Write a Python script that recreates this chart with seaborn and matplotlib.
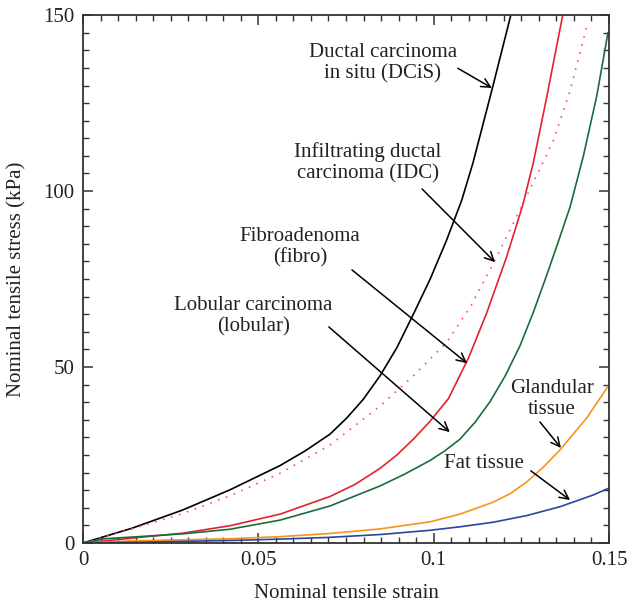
import numpy as np
import pandas as pd
import matplotlib
matplotlib.use("Agg")
import matplotlib.pyplot as plt
from matplotlib.ticker import MultipleLocator
import seaborn as sns

# strain / stress values
dcis_x = [0, 0.014, 0.0285, 0.0419, 0.0562, 0.0634, 0.0704, 0.0752, 0.0799, 0.0847, 0.0895, 0.0942, 0.099, 0.1037, 0.108, 0.1112, 0.1166, 0.122]
dcis_y = [0, 4.2, 9.4, 15.1, 22.0, 26.2, 30.9, 35.5, 40.8, 47.5, 55.5, 65.0, 75.0, 86.1, 97.4, 108, 128.7, 150]

fibro_x = [0, 0.0143, 0.0285, 0.0419, 0.0562, 0.0704, 0.0775, 0.0847, 0.0895, 0.0942, 0.0989, 0.1042, 0.1099, 0.1151, 0.1208, 0.1254, 0.1284, 0.1322, 0.1368]
fibro_y = [0, 1.4, 2.8, 4.9, 8.2, 13.2, 16.6, 21.2, 25.0, 29.5, 34.5, 41.0, 52.5, 65.3, 81.3, 96, 108, 126.5, 150]

idc_x = [0, 0.0143, 0.0285, 0.0419, 0.0562, 0.0704, 0.0847, 0.0942, 0.1037, 0.1104, 0.1175, 0.126, 0.134, 0.1389, 0.1437]
idc_y = [0, 4.1, 8.4, 13.4, 19.8, 27.8, 38.9, 47.5, 57.0, 67.0, 80.4, 97.5, 114, 128.5, 147]

lobular_x = [0, 0.006, 0.0143, 0.0285, 0.0419, 0.0562, 0.0704, 0.0847, 0.0918, 0.0989, 0.1032, 0.1075, 0.1118, 0.1161, 0.1204,
             0.1246, 0.1284, 0.1322, 0.1355, 0.1389, 0.1427, 0.1465, 0.1497]
lobular_y = [0, 1.2, 1.7, 2.6, 3.9, 6.5, 10.5, 16.2, 19.6, 23.4, 26.2, 29.5, 34.3, 40.2, 47.5,
             56.0, 65.5, 76.0, 85.5, 95.5, 110, 127, 145]

gland_x = [0, 0.0143, 0.0419, 0.0562, 0.0704, 0.0847, 0.0989, 0.1075, 0.117, 0.1218, 0.1266, 0.1313, 0.136, 0.1437, 0.15]
gland_y = [0, 0.6, 1.2, 1.8, 2.7, 4.0, 6.0, 8.2, 11.6, 14.0, 17.4, 21.6, 26.4, 35.6, 44.9]

fat_x = [0, 0.0143, 0.0419, 0.0562, 0.0704, 0.0847, 0.0989, 0.1075, 0.117, 0.1266, 0.136, 0.1454, 0.15]
fat_y = [0, 0.2, 0.7, 1.1, 1.6, 2.4, 3.6, 4.6, 5.9, 7.8, 10.3, 13.6, 15.6]

x_ticks = [0, 0.05, 0.1, 0.15]
x_tick_labels = ["0", "0.05", "0.1", "0.15"]
y_ticks = [0, 50, 100, 150]

sns.set_style("ticks")
plt.rcParams['font.family'] = ['Liberation Serif', 'DejaVu Serif']

fig = plt.figure(figsize=(6.27, 6.06), dpi=100)
ax = fig.add_axes([0.1324, 0.104, 0.8389, 0.871])

curves = [
    (dcis_x, dcis_y, "black", "-"),
    (fibro_x, fibro_y, "#e3232b", "-"),
    (idc_x, idc_y, "#ff4a7d", (0, (1, 4))),
    (lobular_x, lobular_y, "#1d6b3a", "-"),
    (gland_x, gland_y, "#f7941d", "-"),
    (fat_x, fat_y, "#2a45a0", "-"),
]
for xs, ys, col, ls in curves:
    sns.lineplot(x=xs, y=ys, color=col, linestyle=ls, linewidth=1.2, ax=ax, sort=True)

ax.set_xlim(0, 0.15)
ax.set_ylim(0, 150)
ax.set_xticks(x_ticks)
ax.set_xticklabels(x_tick_labels)
ax.set_yticks(y_ticks)
ax.xaxis.set_minor_locator(MultipleLocator(0.005))
ax.yaxis.set_minor_locator(MultipleLocator(5))
ax.tick_params(which='both', direction='in', top=True, right=True, colors='#333333', labelcolor='#222222', labelsize=15)
ax.tick_params(which='major', length=7, width=1.1, pad=6)
ax.tick_params(which='minor', length=4, width=1.0)
for s in ax.spines.values():
    s.set_linewidth(1.3)
    s.set_color('#333333')

ax.set_xlabel("Nominal tensile strain", fontsize=15, color='#222222', labelpad=10)
ax.set_ylabel("Nominal tensile stress (kPa)", fontsize=15, color='#222222', labelpad=12)

# labels with arrows: (text, text pos, arrow tail, arrow tip)
notes = [
    ("Ductal carcinoma\nin situ (DCiS)", (0.0855, 136.4), (0.1069, 134.9), (0.1166, 129.3)),
    ("Infiltrating ductal\ncarcinoma (IDC)", (0.0813, 108), (0.0967, 100.6), (0.1175, 79.8)),
    ("Fibroadenoma\n(fibro)", (0.0619, 84.1), (0.0767, 77.6), (0.1095, 51.1)),
    ("Lobular carcinoma\n(lobular)", (0.0485, 64.5), (0.0701, 61.4), (0.1046, 31.5)),
    ("Glandular\ntissue", (0.1337, 40.9), (0.1303, 34.4), (0.1363, 27)),
    ("Fat tissue", (0.1143, 22.7), (0.1277, 20.5), (0.1389, 12.2)),
]
for txt, pos, tail, tip in notes:
    ax.text(pos[0], pos[1], txt, ha='center', va='center', fontsize=15,
            color='#222222', linespacing=1.15)
    ax.annotate('', xy=tip, xytext=tail,
                arrowprops=dict(arrowstyle='->', color='black', lw=1.1,
                                mutation_scale=16, shrinkA=0, shrinkB=0))

fig.savefig("out.png", dpi=100)
